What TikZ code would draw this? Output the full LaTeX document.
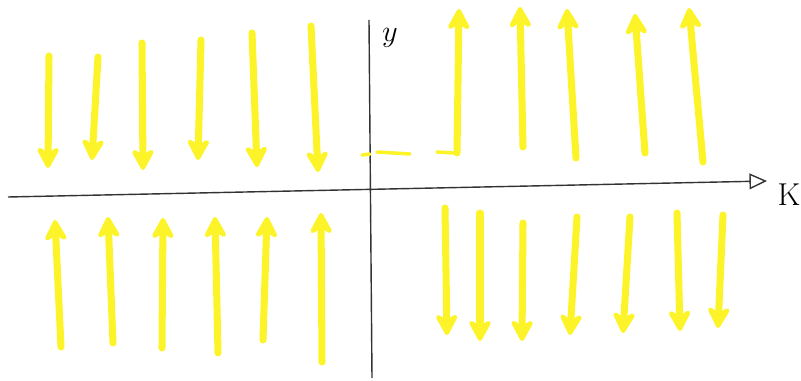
\documentclass[tikz,border=0pt]{standalone}
\usepackage{tikz}
\usetikzlibrary{arrows.meta}
\definecolor{marker}{RGB}{252,244,40}

\begin{document}
\begin{tikzpicture}[
      x=0.02cm, y=-0.02cm,
      flow/.style={-{Stealth[length=15pt, width=16pt, inset=5pt, round]},
                   line width=4pt, line cap=round, color=marker},
      guide/.style={line width=2pt, line cap=round, color=marker},
      axis/.style={line width=0.8pt, color=black!80}
  ]
    \useasboundingbox (0,0) rectangle (801,381);

    % axes
    \draw[axis] (369,20) -- (372,378);
    \draw[axis, -{Triangle[open, length=10pt, width=9pt]}] (8,197) -- (767,181);
    \node[font=\fontsize{17}{17}\selectfont, anchor=west] (ylab) at (376,38) {$y$};
    \node[font=\fontsize{18}{18}\selectfont] (klab) at (789,195) {K};

    % upper left: downwards
    \foreach \xa/\ya/\xb/\yb in {49/56/48/168, 98/57/92/160, 142/43/143/170,
                                 201/40/198/160, 252/33/257/167, 311/26/318/172}
      \draw[flow] (\xa,\ya) -- (\xb,\yb);

    % lower left: upwards
    \foreach \xa/\ya/\xb/\yb in {61/347/55/220, 113/343/108/217, 162/348/163/218,
                                 218/353/215/217, 263/340/267/217, 322/362/321/213}
      \draw[flow] (\xa,\ya) -- (\xb,\yb);

    % upper right: upwards
    \foreach \xa/\ya/\xb/\yb in {457/153/459/9, 523/147/520/7, 576/158/567/9,
                                 645/153/635/14, 703/162/689/8}
      \draw[flow] (\xa,\ya) -- (\xb,\yb);

    % lower right: downwards
    \foreach \xa/\ya/\xb/\yb in {445/208/447/335, 480/213/480/341, 523/223/522/341,
                                 577/217/570/335, 630/217/623/333, 677/213/680/331,
                                 723/215/718/328}
      \draw[flow] (\xa,\ya) -- (\xb,\yb);

    % dashed level
    \draw[guide] (362,155) -- (370,154);
    \draw[guide] (377,152) -- (410,154);
    \draw[guide] (437,152) -- (455,153);
\end{tikzpicture}
\end{document}
